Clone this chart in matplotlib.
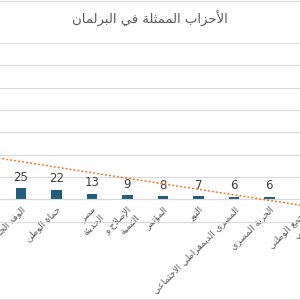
import numpy as np
import matplotlib.pyplot as plt
from matplotlib.lines import Line2D

# data (visible part of the chart)
title = "الأحزاب الممثلة في البرلمان"
parties = ["الوفد الجديد", "حماة الوطن", "مصر\nالحديثة", "الإصلاح و\nالتنمية", "المؤتمر",
           "النور", "المصري الديمقراطي الاجتماعي", "الحرية المصري", "التجمع الوطني\nالتقدمي"]
seats = [25, 22, 13, 9, 8, 7, 6, 6, 6]
show_label = [True, True, True, True, True, True, True, True, False]
# linear trendline: value at first visible bar, change per category
trend_start = 84.5
trend_step = -12.4
y_ticks = list(range(-100, 351, 50))

# --- minimal arabic shaping (matplotlib draws glyphs left to right, unjoined) ---
FOUR = {'ئ': 0xFE89, 'ب': 0xFE8F, 'ت': 0xFE95, 'ث': 0xFE99, 'ج': 0xFE9D, 'ح': 0xFEA1,
        'خ': 0xFEA5, 'س': 0xFEB1, 'ش': 0xFEB5, 'ص': 0xFEB9, 'ض': 0xFEBD, 'ط': 0xFEC1,
        'ظ': 0xFEC5, 'ع': 0xFEC9, 'غ': 0xFECD, 'ف': 0xFED1, 'ق': 0xFED5, 'ك': 0xFED9,
        'ل': 0xFEDD, 'م': 0xFEE1, 'ن': 0xFEE5, 'ه': 0xFEE9, 'ي': 0xFEF1}
TWO = {'آ': 0xFE81, 'أ': 0xFE83, 'ؤ': 0xFE85, 'إ': 0xFE87, 'ا': 0xFE8D, 'ة': 0xFE93,
       'د': 0xFEA9, 'ذ': 0xFEAB, 'ر': 0xFEAD, 'ز': 0xFEAF, 'و': 0xFEED, 'ى': 0xFEEF}
LAMALEF = {'آ': 0xFEF5, 'أ': 0xFEF7, 'إ': 0xFEF9, 'ا': 0xFEFB}


def shape_line(line):
    units = []
    i = 0
    while i < len(line):
        if line[i] == 'ل' and i + 1 < len(line) and line[i + 1] in LAMALEF:
            units.append(('LA', line[i + 1]))
            i += 2
        else:
            units.append(('C', line[i]))
            i += 1
    out = []
    for k, (kind, c) in enumerate(units):
        prev = units[k - 1] if k > 0 else None
        nxt = units[k + 1] if k + 1 < len(units) else None
        joins_prev = prev is not None and prev[0] == 'C' and prev[1] in FOUR
        if kind == 'LA':
            out.append(chr(LAMALEF[c] + (1 if joins_prev else 0)))
        elif c in FOUR:
            joins_next = nxt is not None and (nxt[0] == 'LA' or nxt[1] in FOUR or nxt[1] in TWO)
            if joins_prev and joins_next:
                off = 3
            elif joins_prev:
                off = 1
            elif joins_next:
                off = 2
            else:
                off = 0
            out.append(chr(FOUR[c] + off))
        elif c in TWO:
            out.append(chr(TWO[c] + (1 if joins_prev else 0)))
        else:
            out.append(c)
    return ''.join(reversed(out))


def shape(text):
    return '\n'.join(shape_line(l) for l in text.split('\n'))


plt.rcParams['font.family'] = ['DejaVu Sans']

fig = plt.figure(figsize=(3, 3), dpi=100)
ax = fig.add_axes([-0.05, (300 - 244) / 300, 1.1, (244 - 43) / 300])

x = np.arange(len(parties))
bars = ax.bar(x, seats, width=0.296, color="#215e7e", zorder=2)
labels = [str(v) if s else "" for v, s in zip(seats, show_label)]
ax.bar_label(bars, labels=labels, padding=3, fontsize=8.5, color="#404040")

ax.set_xlim(-1.0085, 8.287)
ax.set_ylim(-100, 350)

xs = np.array(ax.get_xlim())
ax.plot(xs, trend_start + trend_step * xs, color="#ed7d31", lw=1.2,
        linestyle=(0, (0.4, 2.0)), dash_capstyle="round", zorder=3)

ax.set_yticks(y_ticks)
ax.yaxis.grid(True, color="#d9d9d9", lw=0.8)
ax.set_axisbelow(True)
ax.tick_params(axis="y", left=False, labelleft=False)
ax.tick_params(axis="x", length=0, pad=4)

for side in ["top", "left", "right"]:
    ax.spines[side].set_visible(False)
ax.spines["bottom"].set_position(("data", 0))
ax.spines["bottom"].set_color("#d9d9d9")

ax.set_xticks(x)
ax.set_xticklabels([shape(p) for p in parties], rotation=45, ha="right", va="top",
                   rotation_mode="anchor", fontsize=6.6, color="#595959",
                   multialignment="right")

fig.text(0.5, 1 - 19 / 300, shape(title), ha="center", va="center", fontsize=9.5,
         color="#595959")

# chart area border (top and bottom edges visible)
for yy in [1 - 1 / 300, 1 - 299 / 300]:
    fig.add_artist(Line2D([0, 1], [yy, yy], transform=fig.transFigure,
                          color="#d9d9d9", lw=0.8))

fig.savefig("out.png", dpi=100)
